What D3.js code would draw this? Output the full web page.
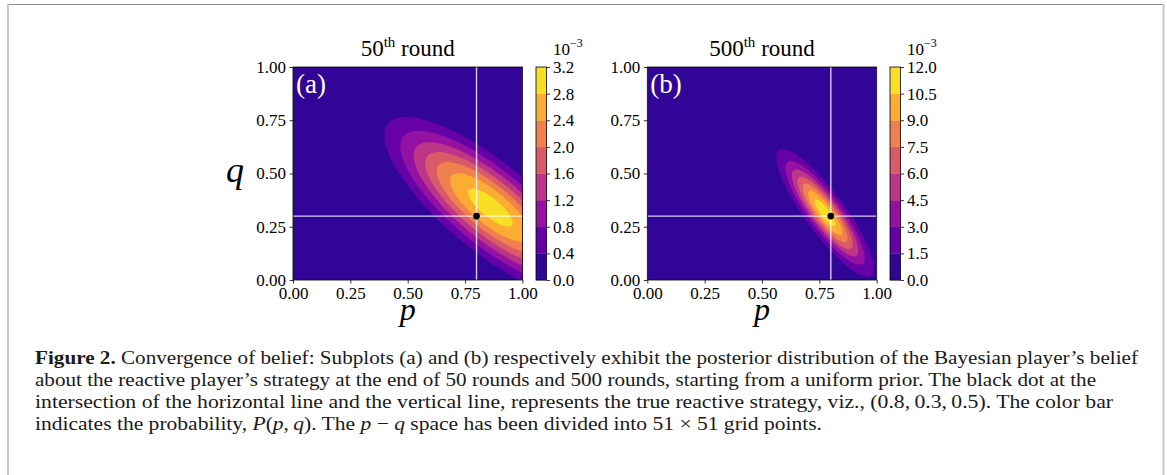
<!DOCTYPE html>
<html>
<head>
<meta charset="utf-8">
<script src="https://cdn.jsdelivr.net/npm/d3@7"></script>
<style>
  body { margin: 0; background: #fff; }
  svg { display: block; }
  text { font-family: "Liberation Serif", "Times New Roman", serif; }
</style>
</head>
<body>
<svg width="1167" height="475"></svg>
<script>
// ---- data ----
const pTicks = [0, 0.25, 0.5, 0.75, 1]
const qTicks = [0, 0.25, 0.5, 0.75, 1]
const trueStrategy = [0.8, 0.3]

const levelsA = [0, 0.4, 0.8, 1.2, 1.6, 2.0, 2.4, 2.8, 3.2]
const levelsB = [0, 1.5, 3.0, 4.5, 6.0, 7.5, 9.0, 10.5, 12.0]

// contour boundaries (one per inner level, outermost first), in p-q units:
// centre, half length along the tilt, half width across, tilt in degrees
const cxA = [0.86, 0.86, 0.86, 0.86, 0.86, 0.86, 0.86]
const cyA = [0.34, 0.34, 0.34, 0.34, 0.34, 0.34, 0.34]
const majorA = [0.595, 0.505, 0.43, 0.365, 0.30, 0.225, 0.125]
const minorA = [0.20, 0.17, 0.145, 0.122, 0.10, 0.076, 0.042]
const tiltA = [-42, -42, -42, -42, -42, -42, -42]

const cxB = [0.775, 0.775, 0.775, 0.775, 0.775, 0.775, 0.775]
const cyB = [0.315, 0.315, 0.315, 0.315, 0.315, 0.315, 0.315]
const majorB = [0.357, 0.29, 0.243, 0.202, 0.164, 0.124, 0.076]
const minorB = [0.089, 0.073, 0.061, 0.051, 0.041, 0.031, 0.019]
const tiltB = [-56, -56, -56, -56, -56, -56, -56]

const captionLines = [
  [["Figure 2.", "b"], [" Convergence of belief: Subplots (a) and (b) respectively exhibit the posterior distribution of the Bayesian player\u2019s belief", ""]],
  [["about the reactive player\u2019s strategy at the end of 50 rounds and 500 rounds, starting from a uniform prior. The black dot at the", ""]],
  [["intersection of the horizontal line and the vertical line, represents the true reactive strategy, viz., (0.8,\u20090.3,\u20090.5). The color bar", ""]],
  [["indicates the probability, ", ""], ["P", "i"], ["(", ""], ["p", "i"], [",\u2009", ""], ["q", "i"], ["). The ", ""], ["p", "i"], [" \u2212 ", ""], ["q", "i"], [" space has been divided into 51 \u00d7 51 grid points.", ""]]
]
const captionEnds = [1138, 1096, 1113, 822]

// ---- drawing ----
const svg = d3.select('svg')

svg.append('rect').attr('width', 1167).attr('height', 475).attr('fill', '#fff')
svg.append('line').attr('x1', 7).attr('x2', 1164).attr('y1', 4.5).attr('y2', 4.5)
  .attr('stroke', '#8c8c8c').attr('stroke-width', 1)
svg.append('line').attr('x1', 8).attr('x2', 8).attr('y1', 4).attr('y2', 475)
  .attr('stroke', '#c8c8c8').attr('stroke-width', 2)
svg.append('line').attr('x1', 1163.5).attr('x2', 1163.5).attr('y1', 4).attr('y2', 475)
  .attr('stroke', '#c8c8c8').attr('stroke-width', 2)

const panels = [
  { left: 293, name: 'a', round: '50', label: '(a)', levels: levelsA,
    cx: cxA, cy: cyA, major: majorA, minor: minorA, tilt: tiltA, cbLeft: 536, showQ: true },
  { left: 647.3, name: 'b', round: '500', label: '(b)', levels: levelsB,
    cx: cxB, cy: cyB, major: majorB, minor: minorB, tilt: tiltB, cbLeft: 890, showQ: false }
]

const plotTop = 67, plotBottom = 280, plotW = 229.4
const bandColor = i => d3.interpolatePlasma((i + 0.5) / 8)

const styleAxis = g => {
  g.selectAll('text').attr('font-family', '"Liberation Serif", serif').attr('font-size', 17).attr('fill', '#000')
  g.selectAll('line').attr('stroke', '#000').attr('stroke-width', 0.8)
}

panels.forEach(pn => {
  const x = d3.scaleLinear().domain([0, 1]).range([pn.left, pn.left + plotW])
  const y = d3.scaleLinear().domain([0, 1]).range([plotBottom, plotTop])

  const clipId = 'clip-' + pn.name
  svg.append('clipPath').attr('id', clipId)
    .append('rect').attr('x', x(0)).attr('y', y(1))
    .attr('width', x(1) - x(0)).attr('height', y(0) - y(1))

  const plot = svg.append('g').attr('clip-path', `url(#${clipId})`)

  plot.append('rect')
    .attr('x', x(0)).attr('y', y(1))
    .attr('width', x(1) - x(0)).attr('height', y(0) - y(1))
    .attr('fill', bandColor(0))

  const ellipse = d3.line()
    .x(d => x(d[0]))
    .y(d => y(d[1]))
    .curve(d3.curveLinearClosed)

  const ts = d3.range(0, 2 * Math.PI, Math.PI / 90)
  pn.major.forEach((a, i) => {
    const b = pn.minor[i]
    const th = pn.tilt[i] * Math.PI / 180
    const pts = ts.map(t => [
      pn.cx[i] + a * Math.cos(t) * Math.cos(th) - b * Math.sin(t) * Math.sin(th),
      pn.cy[i] + a * Math.cos(t) * Math.sin(th) + b * Math.sin(t) * Math.cos(th)
    ])
    plot.append('path')
      .attr('d', ellipse(pts))
      .attr('fill', bandColor(i + 1))
  })

  // guide lines through the true strategy
  plot.append('line')
    .attr('x1', x(trueStrategy[0])).attr('x2', x(trueStrategy[0]))
    .attr('y1', y(0)).attr('y2', y(1))
    .attr('stroke', '#fff').attr('stroke-opacity', 0.8).attr('stroke-width', 1.4)
  plot.append('line')
    .attr('x1', x(0)).attr('x2', x(1))
    .attr('y1', y(trueStrategy[1])).attr('y2', y(trueStrategy[1]))
    .attr('stroke', '#fff').attr('stroke-opacity', 0.8).attr('stroke-width', 1.4)
  plot.append('circle')
    .attr('cx', x(trueStrategy[0])).attr('cy', y(trueStrategy[1]))
    .attr('r', 3.4).attr('fill', '#000')

  svg.append('rect')
    .attr('x', x(0)).attr('y', y(1))
    .attr('width', x(1) - x(0)).attr('height', y(0) - y(1))
    .attr('fill', 'none').attr('stroke', '#000').attr('stroke-width', 0.8)

  // axes
  const axisX = d3.axisBottom(x).tickValues(pTicks).tickFormat(d3.format('.2f'))
    .tickSizeInner(3.5).tickSizeOuter(0).tickPadding(3.5)
  const axisY = d3.axisLeft(y).tickValues(qTicks).tickFormat(d3.format('.2f'))
    .tickSizeInner(3.5).tickSizeOuter(0).tickPadding(3.5)
  svg.append('g').attr('transform', `translate(0, ${plotBottom})`).call(axisX)
    .call(g => g.select('.domain').remove()).call(styleAxis)
  svg.append('g').attr('transform', `translate(${pn.left}, 0)`).call(axisY)
    .call(g => g.select('.domain').remove()).call(styleAxis)

  // title
  const title = svg.append('text')
    .attr('x', (x(0) + x(1)) / 2).attr('y', 56)
    .attr('text-anchor', 'middle').attr('font-size', 23)
  title.append('tspan').text(pn.round)
  title.append('tspan').attr('font-size', 15).attr('dy', -9).text('th')
  title.append('tspan').attr('dy', 9).text(' round')

  svg.append('text')
    .attr('x', x(0) + 3).attr('y', 93)
    .attr('font-size', 27).attr('fill', '#fff')
    .text(pn.label)

  svg.append('text')
    .attr('x', (x(0) + x(1)) / 2).attr('y', 320)
    .attr('text-anchor', 'middle').attr('font-size', 32).attr('font-style', 'italic')
    .text('p')

  if (pn.showQ) {
    svg.append('text')
      .attr('x', 226).attr('y', 182)
      .attr('font-size', 36).attr('font-style', 'italic')
      .text('q')
  }

  // colour bar
  const cbW = 10.5
  const cb = d3.scaleLinear().domain([pn.levels[0], pn.levels[pn.levels.length - 1]]).range([plotBottom, plotTop])
  svg.append('g').selectAll('rect')
    .data(d3.pairs(pn.levels))
    .join('rect')
    .attr('x', pn.cbLeft).attr('width', cbW)
    .attr('y', d => cb(d[1])).attr('height', d => cb(d[0]) - cb(d[1]) + 0.3)
    .attr('fill', (d, i) => bandColor(i))
  svg.append('rect')
    .attr('x', pn.cbLeft).attr('y', plotTop).attr('width', cbW).attr('height', plotBottom - plotTop)
    .attr('fill', 'none').attr('stroke', '#000').attr('stroke-width', 0.8)
  const axisCb = d3.axisRight(cb).tickValues(pn.levels).tickFormat(d3.format('.1f'))
    .tickSizeInner(3.5).tickSizeOuter(0).tickPadding(3)
  svg.append('g').attr('transform', `translate(${pn.cbLeft + cbW}, 0)`).call(axisCb)
    .call(g => g.select('.domain').remove()).call(styleAxis)

  const exp = svg.append('text').attr('x', pn.cbLeft + 17).attr('y', 55).attr('font-size', 17)
  exp.append('tspan').text('10')
  exp.append('tspan').attr('font-size', 12).attr('dy', -8).text('\u22123')
})

// caption
captionLines.forEach((line, i) => {
  const t = svg.append('text')
    .attr('x', 35).attr('y', 364 + i * 22)
    .attr('font-size', 19).attr('fill', '#1a1a1a')
    .attr('textLength', captionEnds[i] - 35).attr('lengthAdjust', 'spacingAndGlyphs')
  line.forEach(seg => {
    const s = t.append('tspan').text(seg[0])
    if (seg[1] === 'b') s.attr('font-weight', 'bold')
    if (seg[1] === 'i') s.attr('font-style', 'italic')
  })
})
</script>
</body>
</html>
